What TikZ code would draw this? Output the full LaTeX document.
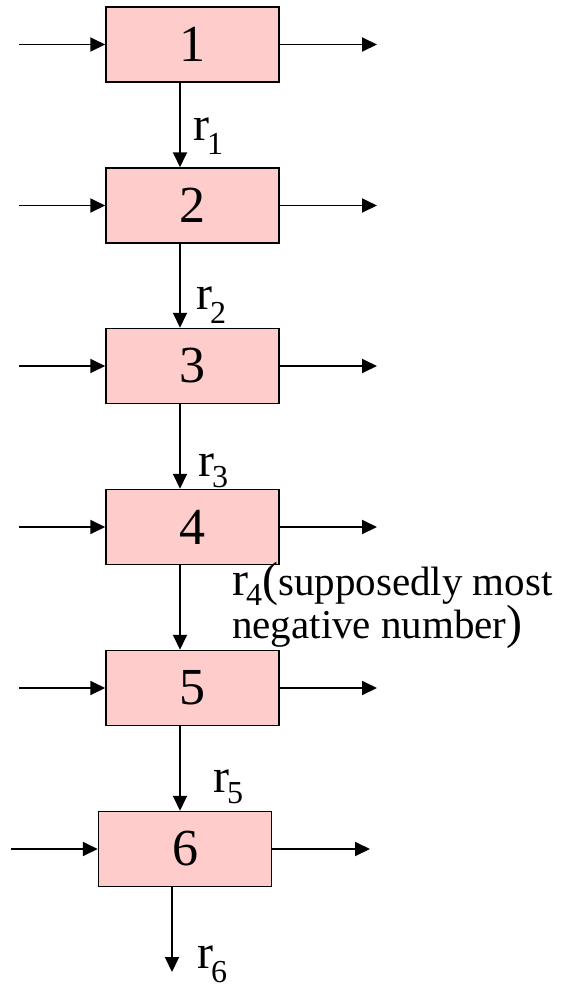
\documentclass[tikz,border=0pt]{standalone}
\usepackage{fontspec}
\setmainfont{Liberation Serif}
\usetikzlibrary{arrows.meta}
\definecolor{boxpink}{HTML}{FFCCCC}
\newcommand\rsub[2][14pt]{\kern-2pt\raisebox{-#1}{\fontsize{32}{32}\selectfont #2}}
\tikzset{
  blk/.style={draw=black, line width=1.5pt, fill=boxpink, minimum width=173pt, minimum height=75pt, inner sep=0pt, font=\fontsize{52}{54}\selectfont},
  flow/.style={line width=1.9pt, -{Triangle[length=15pt,width=14pt]}},
  lab/.style={inner sep=0pt, anchor=base west, font=\fontsize{48}{50}\selectfont},
  labsmall/.style={inner sep=0pt, anchor=base west, font=\fontsize{41}{42}\selectfont}
}
\begin{document}
\begin{tikzpicture}[x=1pt,y=-1pt]
\useasboundingbox (0,0) rectangle (564,989);
% boxes
\node[blk] (b1) at (192.5,44.5) {1};
\node[blk] (b2) at (192.5,205.5) {2};
\node[blk] (b3) at (192.5,366) {3};
\node[blk] (b4) at (192.5,527) {4};
\node[blk] (b5) at (192.5,688) {5};
\node[blk] (b6) at (185,849) {6};
% side arrows
\foreach \i/\y in {1/44.5,2/205.5,3/366,4/527,5/688}{
  \coordinate (in\i) at (19,\y);
  \coordinate (out\i) at (377,\y);
  \draw[flow] (in\i) -- (b\i.west);
  \draw[flow] (b\i.east) -- (out\i);
}
\coordinate (in6) at (11,849);
\coordinate (out6) at (370,849);
\draw[flow] (in6) -- (b6.west);
\draw[flow] (b6.east) -- (out6);
% vertical arrows
\foreach \a/\b in {1/2,2/3,3/4,4/5}{
  \draw[flow] ([xshift=-12.5pt]b\a.south) -- ([xshift=-12.5pt]b\a.south |- b\b.north);
}
\draw[flow] ([xshift=-12.5pt]b5.south) -- ([xshift=-12.5pt]b5.south |- b6.north);
\coordinate (end6) at (172,972);
\draw[flow] (b6.south -| end6) -- (end6);
% labels
\node[lab] (t1) at (193,140) {r\rsub{1}};
\node[lab] (t2) at (196,309) {r\rsub{2}};
\node[lab] (t3) at (198,476) {r\rsub[11pt]{3}};
\node[lab] (t4) at (232,595) {r\rsub[10pt]{4}(\fontsize{41}{42}\selectfont supposedly most};
\node[labsmall] (t4b) at (232,638) {negative number\fontsize{48}{50}\selectfont)};
\node[lab] (t5) at (213,792) {r\rsub[11pt]{5}};
\node[lab] (t6) at (197,968) {r\rsub{6}};
\end{tikzpicture}
\end{document}
